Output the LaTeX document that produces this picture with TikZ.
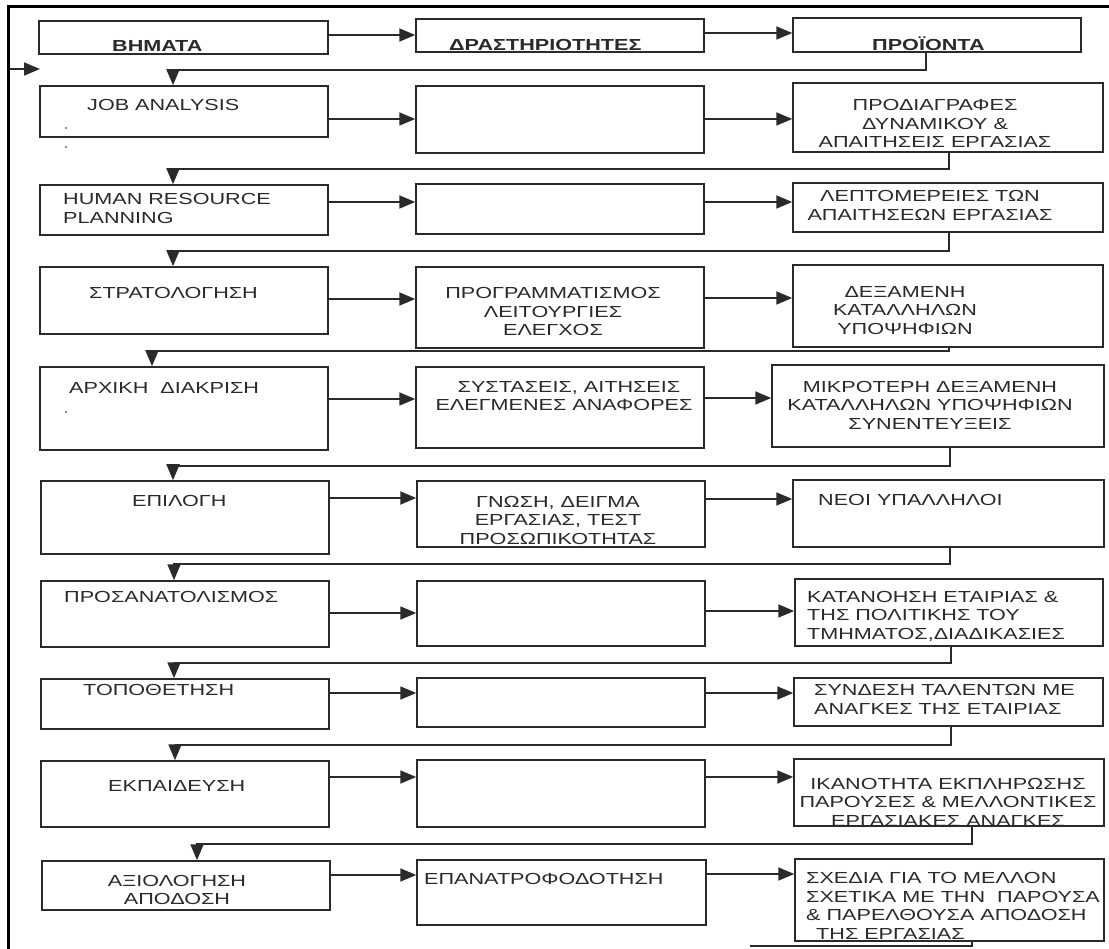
\documentclass[tikz,border=0pt]{standalone}
\usepackage{fontspec}
\setmainfont{Liberation Sans}[FakeStretch=1.35]
\usetikzlibrary{arrows.meta,fit}
\definecolor{ink}{HTML}{2A2A2A}
\tikzset{
  box/.style={draw=ink, line width=1.5pt, inner sep=0pt},
  lbl/.style={text=ink, inner sep=0pt, font=\fontsize{16}{18.5}\selectfont},
  arr/.style={draw=ink, line width=1.8pt, -{Triangle[length=16pt,width=13pt]}},
  conn/.style={draw=ink, line width=1.8pt},
  frame/.style={draw=black, line width=3pt},
  dot/.style={fill=ink!70, circle, inner sep=0pt, minimum size=2.4pt},
}
\begin{document}
\begin{tikzpicture}[x=1pt,y=-1pt]
\useasboundingbox (0,0) rectangle (1109,949);
\fill[white] (0,0) rectangle (1109,949);
\draw[frame] (8,949) -- (8,7) -- (1109,7);

% ---------- header ----------
\node[box, fit={(39,21) (328,54)}] (h1) {};
\node[box, fit={(416,19) (704,52)}] (h2) {};
\node[box, fit={(793,18) (1081,52)}] (h3) {};
\node[lbl, anchor=base west] (th1) at (112,51.5) {\textbf{ΒΗΜΑΤΑ}};
\node[lbl, anchor=base west] (th2) at (449,51) {\textbf{ΔΡΑΣΤΗΡΙΟΤΗΤΕΣ}};
\node[lbl, anchor=base west] (th3) at (872,50.5) {\textbf{ΠΡΟΪΟΝΤΑ}};
\draw[arr] (h1.east |- 0,35) -- (h2.west |- 0,35);
\draw[arr] (h2.east |- 0,33) -- (h3.west |- 0,33);
\coordinate (ls) at (10,69);
\coordinate (le) at (40,69);
\draw[arr] (ls) -- (le);

% ---------- row 1 ----------
\node[box, fit={(40,86) (328,137)}] (r1a) {};
\node[box, fit={(416,86) (704,153)}] (r1b) {};
\node[box, fit={(793,83) (1103,152)}] (r1c) {};
\node[lbl, anchor=base west] (t1a) at (87,110.5) {JOB ANALYSIS};
\node[dot] (d1) at (66,128) {};
\node[dot] (d2) at (66,147) {};
\node[lbl, anchor=base, align=center] (t1c) at (935,148) {ΠΡΟΔΙΑΓΡΑΦΕΣ\\ΔΥΝΑΜΙΚΟΥ \&\\ΑΠΑΙΤΗΣΕΙΣ ΕΡΓΑΣΙΑΣ};
\draw[arr] (r1a.east |- 0,119) -- (r1b.west |- 0,119);
\draw[arr] (r1b.east |- 0,119) -- (r1c.west |- 0,119);
\draw[arr] (h3.south -| 926,0) -- ++(0,17) -| (r1a.north -| 173,0);

% ---------- row 2 ----------
\node[box, fit={(40,185) (328,235)}] (r2a) {};
\node[box, fit={(416,184) (704,234)}] (r2b) {};
\node[box, fit={(793,183) (1103,232)}] (r2c) {};
\node[lbl, anchor=base west, align=left] (t2a) at (63,223.5) {HUMAN RESOURCE\\PLANNING};
\node[lbl, anchor=base, align=center] (t2c) at (930,220.5) {ΛΕΠΤΟΜΕΡΕΙΕΣ ΤΩΝ\\ΑΠΑΙΤΗΣΕΩΝ ΕΡΓΑΣΙΑΣ};
\draw[arr] (r2a.east |- 0,202) -- (r2b.west |- 0,202);
\draw[arr] (r2b.east |- 0,202) -- (r2c.west |- 0,202);
\draw[arr] (r1c.south -| 949,0) -- ++(0,16) -| (r2a.north -| 173,0);

% ---------- row 3 ----------
\node[box, fit={(40,267) (328,334)}] (r3a) {};
\node[box, fit={(416,267) (704,348)}] (r3b) {};
\node[box, fit={(793,265) (1103,347)}] (r3c) {};
\node[lbl, anchor=base west] (t3a) at (89,298.5) {ΣΤΡΑΤΟΛΟΓΗΣΗ};
\node[lbl, anchor=base, align=center] (t3b) at (553,336) {ΠΡΟΓΡΑΜΜΑΤΙΣΜΟΣ\\ΛΕΙΤΟΥΡΓΙΕΣ\\ΕΛΕΓΧΟΣ};
\node[lbl, anchor=base, align=center] (t3c) at (905,334.5) {ΔΕΞΑΜΕΝΗ\\ΚΑΤΑΛΛΗΛΩΝ\\ΥΠΟΨΗΦΙΩΝ};
\draw[arr] (r3a.east |- 0,299) -- (r3b.west |- 0,299);
\draw[arr] (r3b.east |- 0,298) -- (r3c.west |- 0,298);
\draw[arr] (r2c.south -| 949,0) -- ++(0,18) -| (r3a.north -| 173,0);

% ---------- row 4 ----------
\node[box, fit={(40,367) (328,450)}] (r4a) {};
\node[box, fit={(416,367) (704,448)}] (r4b) {};
\node[box, fit={(772,365) (1104,447)}] (r4c) {};
\node[lbl, anchor=base west] (t4a) at (69,393.5) {ΑΡΧΙΚΗ\ \ ΔΙΑΚΡΙΣΗ};
\node[dot] (d3) at (66,412) {};
\node[lbl, anchor=base, align=center] (t4b) at (564,411) {\hspace{10pt}ΣΥΣΤΑΣΕΙΣ, ΑΙΤΗΣΕΙΣ\\ΕΛΕΓΜΕΝΕΣ ΑΝΑΦΟΡΕΣ};
\node[lbl, anchor=base, align=center] (t4c) at (930,429.5) {ΜΙΚΡΟΤΕΡΗ ΔΕΞΑΜΕΝΗ\\ΚΑΤΑΛΛΗΛΩΝ ΥΠΟΨΗΦΙΩΝ\\ΣΥΝΕΝΤΕΥΞΕΙΣ};
\draw[arr] (r4a.east |- 0,399) -- (r4b.west |- 0,399);
\draw[arr] (r4b.east |- 0,398) -- (r4c.west |- 0,398);
\draw[arr] (r3c.south -| 949,0) -- ++(0,3) -| (r4a.north -| 152,0);

% ---------- row 5 ----------
\node[box, fit={(41,481) (329,554)}] (r5a) {};
\node[box, fit={(417,481) (705,547)}] (r5b) {};
\node[box, fit={(793,480) (1104,547)}] (r5c) {};
\node[lbl, anchor=base west] (t5a) at (132,506.5) {ΕΠΙΛΟΓΗ};
\node[lbl, anchor=base, align=center] (t5b) at (558,544) {ΓΝΩΣΗ, ΔΕΙΓΜΑ\hspace{6pt}\\ΕΡΓΑΣΙΑΣ, ΤΕΣΤ\hspace{8pt}\\ΠΡΟΣΩΠΙΚΟΤΗΤΑΣ};
\node[lbl, anchor=base west] (t5c) at (818,505.5) {ΝΕΟΙ ΥΠΑΛΛΗΛΟΙ};
\draw[arr] (r5a.east |- 0,498) -- (r5b.west |- 0,498);
\draw[arr] (r5b.east |- 0,499) -- (r5c.west |- 0,499);
\draw[arr] (r4c.south -| 950,0) -- ++(0,18) -| (r5a.north -| 173,0);

% ---------- row 6 ----------
\node[box, fit={(41,581) (329,647)}] (r6a) {};
\node[box, fit={(417,581) (705,646)}] (r6b) {};
\node[box, fit={(795,579) (1103,646)}] (r6c) {};
\node[lbl, anchor=base west] (t6a) at (64,602.5) {ΠΡΟΣΑΝΑΤΟΛΙΣΜΟΣ};
\node[lbl, anchor=base west, align=left] (t6c) at (807,639) {ΚΑΤΑΝΟΗΣΗ ΕΤΑΙΡΙΑΣ \&\\ΤΗΣ ΠΟΛΙΤΙΚΗΣ ΤΟΥ\\ΤΜΗΜΑΤΟΣ,ΔΙΑΔΙΚΑΣΙΕΣ};
\draw[arr] (r6a.east |- 0,613) -- (r6b.west |- 0,613);
\draw[arr] (r6b.east |- 0,611) -- (r6c.west |- 0,611);
\draw[arr] (r5c.south -| 950,0) -- ++(0,16) -| (r6a.north -| 174,0);

% ---------- row 7 ----------
\node[box, fit={(41,679) (329,729)}] (r7a) {};
\node[box, fit={(417,678) (705,727)}] (r7b) {};
\node[box, fit={(794,678) (1103,726)}] (r7c) {};
\node[lbl, anchor=base west] (t7a) at (83,695.5) {ΤΟΠΟΘΕΤΗΣΗ};
\node[lbl, anchor=base west, align=left] (t7c) at (814,714) {ΣΥΝΔΕΣΗ ΤΑΛΕΝΤΩΝ ΜΕ\\ΑΝΑΓΚΕΣ ΤΗΣ ΕΤΑΙΡΙΑΣ};
\draw[arr] (r7a.east |- 0,693) -- (r7b.west |- 0,693);
\draw[arr] (r7b.east |- 0,693) -- (r7c.west |- 0,693);
\draw[arr] (r6c.south -| 951,0) -- ++(0,16) -| (r7a.north -| 174,0);

% ---------- row 8 ----------
\node[box, fit={(41,761) (329,827)}] (r8a) {};
\node[box, fit={(417,760) (705,827)}] (r8b) {};
\node[box, fit={(794,759) (1104,826)}] (r8c) {};
\node[lbl, anchor=base west] (t8a) at (108,791.5) {ΕΚΠΑΙΔΕΥΣΗ};
\node[lbl, anchor=base, align=center] (t8c) at (948,826) {ΙΚΑΝΟΤΗΤΑ ΕΚΠΛΗΡΩΣΗΣ\\ΠΑΡΟΥΣΕΣ \& ΜΕΛΛΟΝΤΙΚΕΣ\\ΕΡΓΑΣΙΑΚΕΣ ΑΝΑΓΚΕΣ};
\draw[arr] (r8a.east |- 0,777) -- (r8b.west |- 0,777);
\draw[arr] (r8b.east |- 0,777) -- (r8c.west |- 0,777);
\draw[arr] (r7c.south -| 951,0) -- ++(0,18) -| (r8a.north -| 175,0);

% ---------- row 9 ----------
\node[box, fit={(42,861) (330,910)}] (r9a) {};
\node[box, fit={(417,860) (706,925)}] (r9b) {};
\node[box, fit={(795,859) (1104,941)}] (r9c) {};
\node[lbl, anchor=base, align=center] (t9a) at (177,904.5) {ΑΞΙΟΛΟΓΗΣΗ\\ΑΠΟΔΟΣΗ};
\node[lbl, anchor=base west] (t9b) at (424,884.5) {ΕΠΑΝΑΤΡΟΦΟΔΟΤΗΣΗ};
\node[lbl, anchor=base west, align=left] (t9c) at (806,939) {ΣΧΕΔΙΑ ΓΙΑ ΤΟ ΜΕΛΛΟΝ\\ΣΧΕΤΙΚΑ ΜΕ ΤΗΝ\ \ ΠΑΡΟΥΣΑ\\\& ΠΑΡΕΛΘΟΥΣΑ ΑΠΟΔΟΣΗ\\\hspace{10pt}ΤΗΣ ΕΡΓΑΣΙΑΣ};
\draw[arr] (r9a.east |- 0,875) -- (r9b.west |- 0,875);
\draw[arr] (r9b.east |- 0,874) -- (r9c.west |- 0,874);
\draw[arr] (r8c.south -| 972,0) -- ++(0,17) -| (r9a.north -| 197,0);

% ---------- cut-off connector at the bottom ----------
\coordinate (bend) at (750,946);
\draw[conn] (r9c.south -| 972,0) |- (bend);
\end{tikzpicture}
\end{document}
